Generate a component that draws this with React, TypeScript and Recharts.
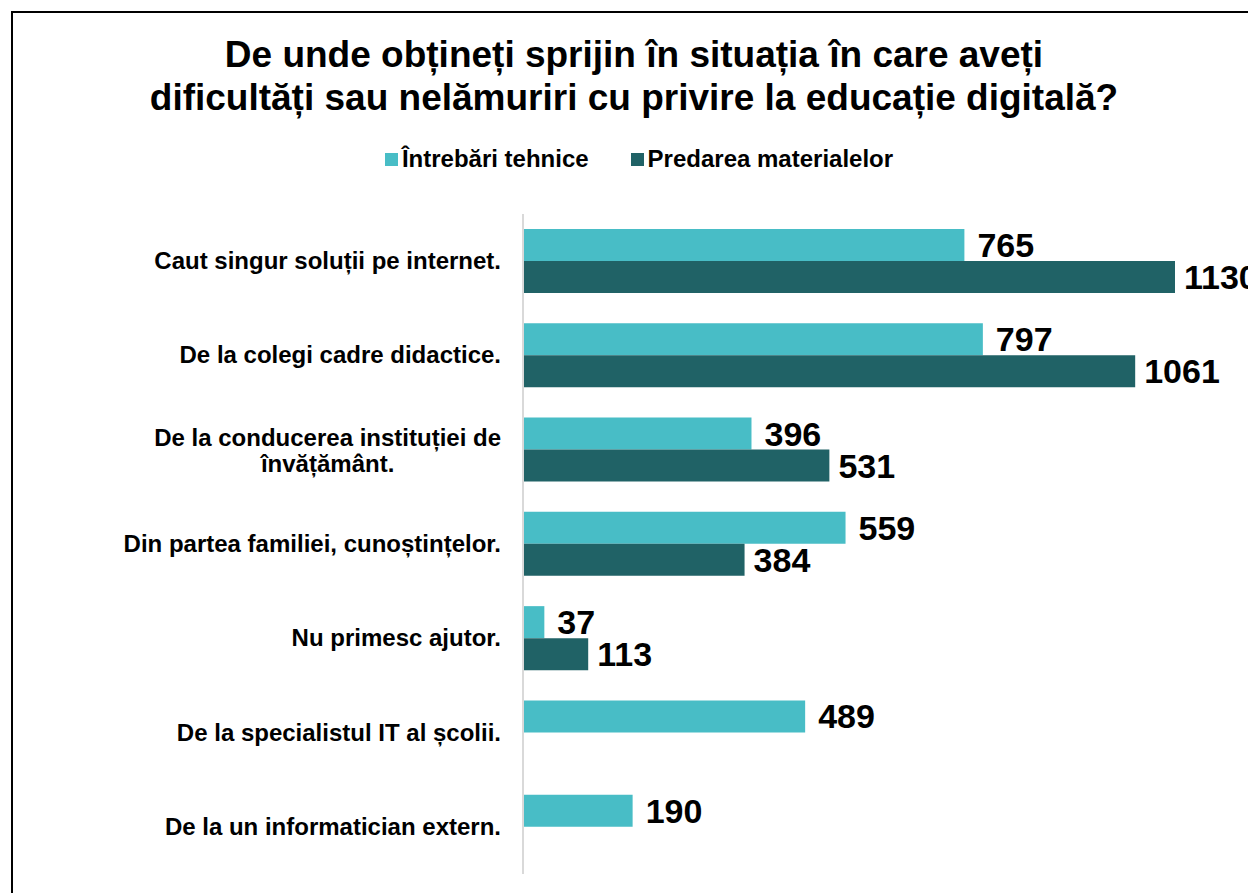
import { useLayoutEffect, useRef, useState } from 'react';
import { BarChart, Bar, XAxis, YAxis, Legend, LabelList } from 'recharts';

const categories = [
  'Caut singur soluții pe internet.',
  'De la colegi cadre didactice.',
  'De la conducerea instituției de\nînvățământ.',
  'Din partea familiei, cunoștințelor.',
  'Nu primesc ajutor.',
  'De la specialistul IT al școlii.',
  'De la un informatician extern.',
];
const tehnice = [765, 797, 396, 559, 37, 489, 190];
const predarea: (number | null)[] = [1130, 1061, 531, 384, 113, null, null];

const seriesNames = ['Întrebări tehnice', 'Predarea materialelor'];
const COLORS = ['#48bdc6', '#206266'];

const data = categories.map((name, i) => ({
  name,
  tehnice: tehnice[i],
  predarea: predarea[i],
}));

const FONT = '"Liberation Sans", Arial, sans-serif';
const LABEL_RIGHT = 501;
const LEGEND_H = 28;

function CategoryTick({ y, payload }: any) {
  const lines: string[] = String(payload.value).split('\n');
  const ref = useRef<SVGTextElement>(null);
  const [w1, setW1] = useState(346);
  useLayoutEffect(() => {
    if (ref.current && lines.length > 1) setW1(ref.current.getComputedTextLength());
  }, [payload.value]);
  const style = { fontFamily: FONT, fontWeight: 700, fontSize: 24, fill: '#000' };
  if (lines.length === 1) {
    return (
      <text x={LABEL_RIGHT} y={y + 8} textAnchor="end" style={style}>
        {lines[0]}
      </text>
    );
  }
  return (
    <g>
      <text ref={ref} x={LABEL_RIGHT} y={y - 4} textAnchor="end" style={style}>
        {lines[0]}
      </text>
      <text x={LABEL_RIGHT - w1 / 2} y={y + 22} textAnchor="middle" style={style}>
        {lines[1]}
      </text>
    </g>
  );
}

function LegendContent() {
  return (
    <div
      style={{
        display: 'flex',
        justifyContent: 'center',
        gap: 42,
        height: LEGEND_H,
        alignItems: 'center',
        paddingLeft: 30,
        fontFamily: FONT,
        fontWeight: 700,
        fontSize: 24,
      }}
    >
      {seriesNames.map((s, i) => (
        <div key={s} style={{ display: 'flex', alignItems: 'center', gap: 4 }}>
          <span style={{ width: 13, height: 13, background: COLORS[i], display: 'inline-block' }} />
          <span>{s}</span>
        </div>
      ))}
    </div>
  );
}

const valueFmt = (v: any) => (v == null ? '' : v);
const valueStyle = { fontFamily: FONT, fontWeight: 700, fontSize: 34, fill: '#000' };

export default function App() {
  return (
    <div style={{ position: 'fixed', left: 0, top: 0, width: 1248, height: 893, overflow: 'hidden', background: '#fff' }}>
      <div style={{ position: 'absolute', left: 11, top: 11, width: 1400, height: 1000, border: '2px solid #000' }} />
      <svg width={1248} height={130} style={{ position: 'absolute', left: 0, top: 0 }}>
        <text x={634} y={67} textAnchor="middle" style={{ fontFamily: FONT, fontWeight: 700, fontSize: 37 }}>
          De unde obțineți sprijin în situația în care aveți
        </text>
        <text x={634} y={110} textAnchor="middle" style={{ fontFamily: FONT, fontWeight: 700, fontSize: 37 }}>
          dificultăți sau nelămuriri cu privire la educație digitală?
        </text>
      </svg>
      <div style={{ position: 'absolute', left: 0, top: 0 }}>
        <BarChart
          width={1248}
          height={893}
          data={data}
          layout="vertical"
          margin={{ top: 214 - LEGEND_H, right: 73, bottom: 19, left: 0 }}
          barGap={0}
          barSize={32}
          style={{ overflow: 'visible' }}
        >
          <XAxis type="number" domain={[0, 1130]} hide />
          <YAxis
            type="category"
            dataKey="name"
            width={523}
            axisLine={{ stroke: '#d9d9d9', strokeWidth: 2 }}
            tickLine={false}
            tick={<CategoryTick />}
            interval={0}
          />
          <Legend
            verticalAlign="top"
            height={LEGEND_H}
            content={<LegendContent />}
            wrapperStyle={{ top: 145, left: 0, width: 1248 }}
          />
          <Bar dataKey="tehnice" name={seriesNames[0]} fill={COLORS[0]} isAnimationActive={false}>
            <LabelList dataKey="tehnice" position="right" offset={13} formatter={valueFmt} style={valueStyle} />
          </Bar>
          <Bar dataKey="predarea" name={seriesNames[1]} fill={COLORS[1]} isAnimationActive={false}>
            <LabelList dataKey="predarea" position="right" offset={9} formatter={valueFmt} style={valueStyle} />
          </Bar>
        </BarChart>
      </div>
    </div>
  );
}
